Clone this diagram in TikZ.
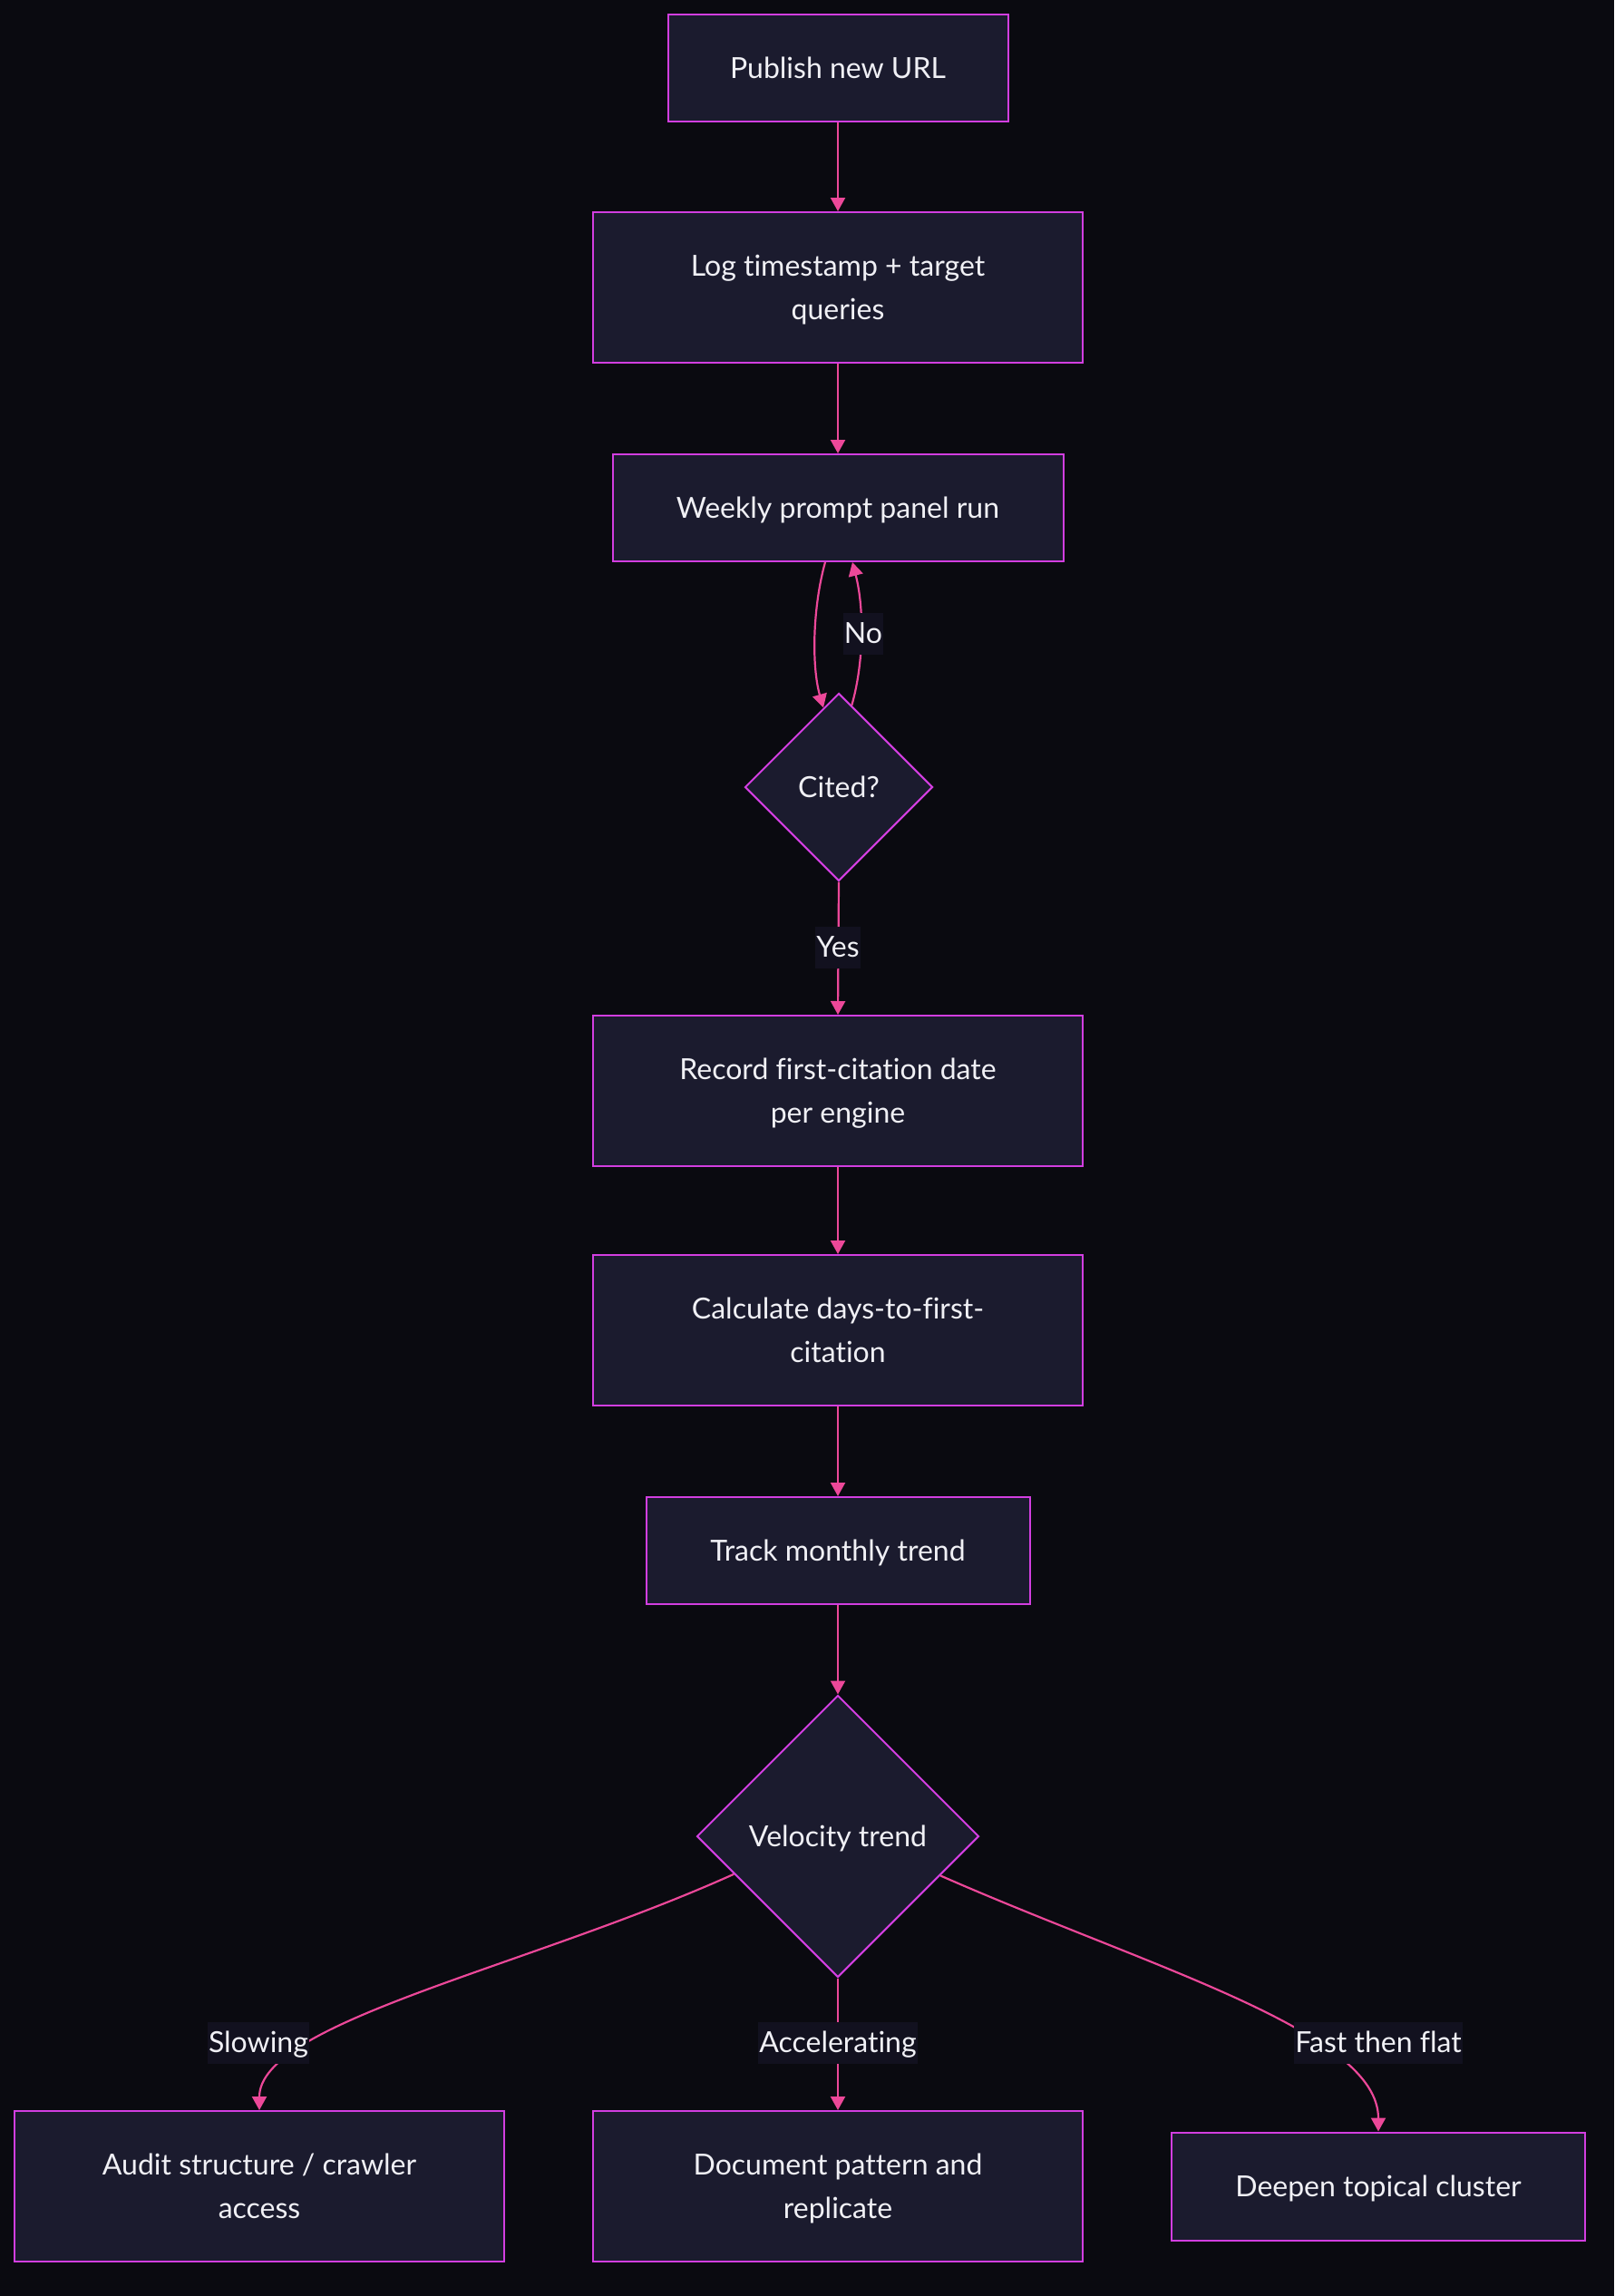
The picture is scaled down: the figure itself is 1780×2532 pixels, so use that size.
\documentclass[tikz,border=0pt]{standalone}
\usepackage{fontspec}
\setmainfont{Lato}[Ligatures=NoCommon]
\usetikzlibrary{arrows.meta,shapes.geometric}

\definecolor{canvasbg}{HTML}{0A0A10}
\definecolor{boxfill}{HTML}{1B1B2E}
\definecolor{boxline}{HTML}{D23EE0}
\definecolor{flowline}{HTML}{EC4899}
\definecolor{labelbg}{HTML}{12111F}
\definecolor{textcol}{HTML}{F0F0F5}

\begin{document}
\begin{tikzpicture}[x=1pt,y=-1pt,
  every node/.style={font=\fontsize{32pt}{48pt}\selectfont, text=textcol},
  stepbox/.style={draw=boxline, fill=boxfill, line width=2pt, rectangle,
    align=center, inner sep=0pt, text depth=0pt},
  decision/.style={draw=boxline, fill=boxfill, line width=2pt, diamond,
    aspect=1, inner sep=0pt, align=center, text depth=0pt},
  flow/.style={draw=flowline, line width=2.2pt,
    -{Triangle[width=16pt,length=15pt]}},
  edgelabel/.style={fill=labelbg, inner xsep=1pt, inner ysep=0pt,
    minimum height=46pt, text height=24pt, text depth=4pt}
]
% canvas
\fill[canvasbg] (0,0) rectangle (1780,2532);
\useasboundingbox (0,0) rectangle (1780,2532);

% process steps
\node[stepbox, minimum width=375pt, minimum height=118pt] (pub) at (924,75) {Publish new URL};
\node[stepbox, minimum width=540pt, minimum height=166pt] (log) at (924,317) {Log timestamp + target\\queries};
\node[stepbox, minimum width=497pt, minimum height=118pt] (weekly) at (924,560) {Weekly prompt panel run};
\node[decision, minimum width=207pt, minimum height=207pt] (cited) at (925,868) {Cited?};
\node[stepbox, minimum width=540pt, minimum height=166pt] (record) at (924,1203) {Record first-citation date\\per engine};
\node[stepbox, minimum width=540pt, minimum height=166pt] (calc) at (924,1467) {Calculate days-to-first-\\citation};
\node[stepbox, minimum width=423pt, minimum height=118pt] (track) at (924,1710) {Track monthly trend};
\node[decision, minimum width=311pt, minimum height=311pt] (velo) at (924,2025) {Velocity trend};
\node[stepbox, minimum width=540pt, minimum height=166pt] (audit) at (286,2411) {Audit structure / crawler\\access};
\node[stepbox, minimum width=540pt, minimum height=166pt] (doc) at (924,2411) {Document pattern and\\replicate};
\node[stepbox, minimum width=456pt, minimum height=119pt] (deepen) at (1520,2411) {Deepen topical cluster};

% straight connectors
\draw[flow] (pub.south) -- (log.north);
\draw[flow] (log.south) -- (weekly.north);
\draw[flow] (cited.south) -- (record.north);
\draw[flow] (record.south) -- (calc.north);
\draw[flow] (calc.south) -- (track.north);
\draw[flow] (track.south) -- (velo.north);
\draw[flow] (velo.south) -- (doc.north);

% polling loop between the weekly run and the check
\draw[flow] ([xshift=-14pt]weekly.south) .. controls (896,670) and (895,735) .. (cited.101);
\draw[flow] (cited.81) .. controls (953,730) and (953,670) .. ([xshift=16pt]weekly.south);

% branches of the velocity check
\draw[flow] (velo.200) .. controls (580,2170) and (286,2230) .. (audit.north);
\draw[flow] (velo.-21) .. controls (1268,2170) and (1520,2240) .. (deepen.north);

% edge labels
\node[edgelabel] (lno) at (952,699) {No};
\node[edgelabel] (lyes) at (924,1045) {Yes};
\node[edgelabel] (lslow) at (285,2253) {Slowing};
\node[edgelabel] (lacc) at (924,2253) {Accelerating};
\node[edgelabel] (lfast) at (1520,2253) {Fast then flat};
\end{tikzpicture}
\end{document}
